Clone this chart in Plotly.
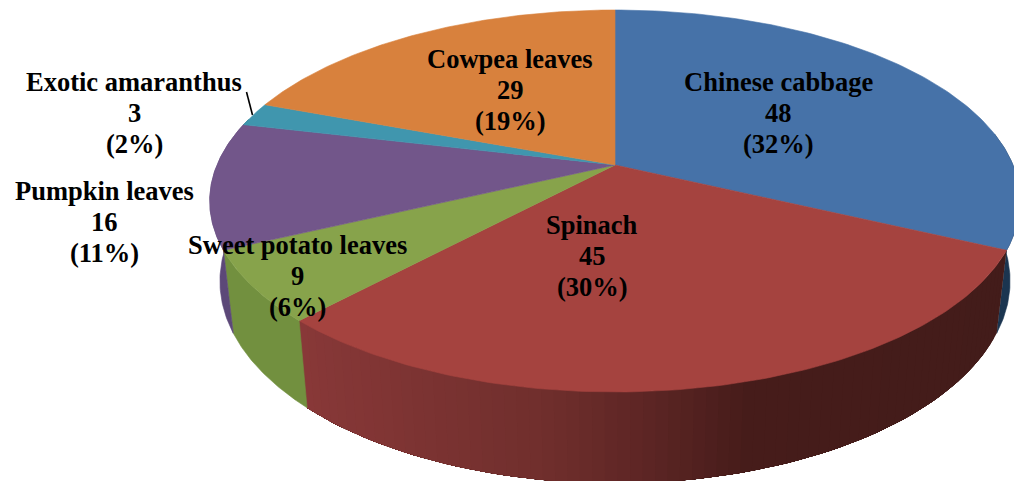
import numpy as np
import plotly.graph_objects as go

categories = ["Chinese cabbage", "Spinach", "Sweet potato leaves", "Pumpkin leaves", "Exotic amaranthus", "Cowpea leaves"]
values = [48, 45, 9, 16, 3, 29]
percents = [32, 30, 6, 11, 2, 19]
top_colors = ["#4672A8", "#A5433F", "#87A34B", "#72568A", "#4096AE", "#D8813D"]
wall_colors = ["#1B3550", None, "#72903F", "#5C4878", "#2A6A7E", "#A05F2A"]
label_xy = [(778, 113), (592, 256), (297, 276), (104, 222), (134, 113), (510, 90)]
LINE_GAP = 31

W, H = 1014, 481
CX = 615
TOP = dict(R=398.0, S=184.2, cy=165.0)
BOT = dict(R=388.0, S=195.0, cy=243.0)
K = 0.1885


def project(theta_deg, d):
    t = np.radians(theta_deg)
    w = 1 + K * np.cos(t)
    return CX + d["R"] * np.sin(t) / w, d["cy"] - d["S"] * np.cos(t) / w


def lerp_color(x):
    stops_x = [300, 550, 650, 750, 1010]
    r = np.interp(x, stops_x, [0x88, 0x6F, 0x5C, 0x46, 0x43])
    g = np.interp(x, stops_x, [0x38, 0x2E, 0x25, 0x1C, 0x1C])
    b = np.interp(x, stops_x, [0x38, 0x2C, 0x24, 0x1A, 0x1A])
    return f"rgb({r:.0f},{g:.0f},{b:.0f})"


def poly(fig, xs, ys, color, lw=0.6):
    fig.add_trace(go.Scatter(x=xs, y=ys, mode="lines", fill="toself", fillcolor=color,
                             line=dict(color=color, width=lw), hoverinfo="skip", showlegend=False))


fig = go.Figure()
edges = np.cumsum([0] + values) / sum(values) * 360.0

for i in range(len(values)):
    a0, a1 = max(edges[i], 80.0), min(edges[i + 1], 285.0)
    if a1 <= a0:
        continue
    if wall_colors[i] is None:
        # painted from the right (dark) end so each band overlaps the previous one: no seams
        cuts = np.linspace(a0, a1, int((a1 - a0) / 1.5) + 2)
        for c0, c1 in zip(cuts[:-1], cuts[1:]):
            ang = np.linspace(c0, a1, 2 + int((a1 - c0) / 1.5))
            tx, ty = project(ang, TOP)
            bx, by = project(ang[::-1], BOT)
            poly(fig, np.r_[tx, bx, tx[0]], np.r_[ty, by, ty[0]],
                 lerp_color(project(np.array([c0, c1]), TOP)[0].mean()), lw=0)
    else:
        ang = np.linspace(a0, a1, 60)
        tx, ty = project(ang, TOP)
        bx, by = project(ang[::-1], BOT)
        poly(fig, np.r_[tx, bx, tx[0]], np.r_[ty, by, ty[0]], wall_colors[i])

for i in range(len(values)):
    ang = np.linspace(edges[i], edges[i + 1], 120)
    ex, ey = project(ang, TOP)
    poly(fig, np.r_[CX, ex, CX], np.r_[TOP["cy"], ey, TOP["cy"]], top_colors[i])

fig.add_trace(go.Scatter(x=[246.5, 252.5], y=[92, 115], mode="lines",
                         line=dict(color="black", width=1.6), hoverinfo="skip", showlegend=False))

for name, v, p, (lx, ly) in zip(categories, values, percents, label_xy):
    for j, line in enumerate([name, str(v), f"({p}%)"]):
        fig.add_annotation(x=lx, y=ly + (j - 1) * LINE_GAP, xref="x", yref="y", showarrow=False,
                           text=f"<b>{line}</b>",
                           font=dict(family="Liberation Serif", size=26.5, color="black"))

fig.update_layout(width=W, height=H, margin=dict(l=0, r=0, t=0, b=0),
                  paper_bgcolor="white", plot_bgcolor="white", showlegend=False,
                  xaxis=dict(range=[0, W], visible=False, fixedrange=True),
                  yaxis=dict(range=[H, 0], visible=False, fixedrange=True))
fig.write_html("out.html", config={"displayModeBar": False},
               post_script="document.body.style.margin='0';document.body.style.overflow='hidden';")
